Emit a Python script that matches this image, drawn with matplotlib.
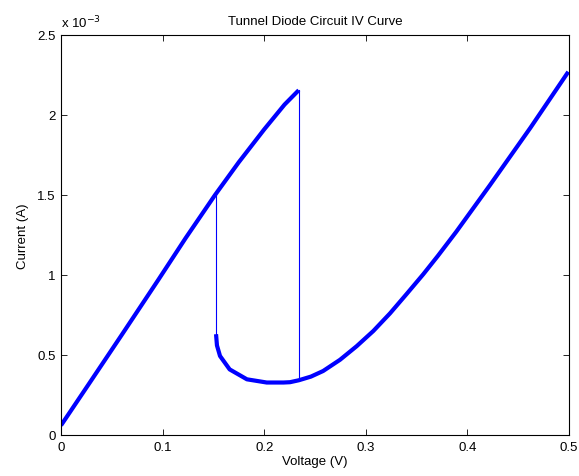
import matplotlib
matplotlib.use("Agg")
import matplotlib.pyplot as plt
from matplotlib.ticker import FuncFormatter

# Upper (rising) branch: voltage (V), current (mA)
upper_v = [0.0, 0.027, 0.0597, 0.0958, 0.1226, 0.1516, 0.175, 0.200,
           0.220, 0.234]
upper_i = [0.06, 0.315, 0.625, 0.97, 1.23, 1.50, 1.705, 1.91,
           2.065, 2.155]

# Lower (valley + diffusion) branch
lower_v = [0.1526, 0.1535, 0.1565, 0.166, 0.183, 0.2025, 0.219, 0.2254, 0.234,
           0.246, 0.258, 0.2746, 0.291, 0.3074, 0.3238, 0.340, 0.3566, 0.371,
           0.389, 0.422, 0.462, 0.4993]
lower_i = [0.63, 0.56, 0.494, 0.41, 0.348, 0.328, 0.328, 0.33, 0.342,
           0.365, 0.40, 0.47, 0.555, 0.65, 0.76, 0.88, 1.005, 1.12,
           1.27, 1.56, 1.92, 2.27]

# Vertical switching jumps
jump_v = [0.1526, 0.234]
jump_top = [1.50, 2.155]
jump_bottom = [0.63, 0.342]

x_ticks = [0, 0.1, 0.2, 0.3, 0.4, 0.5]
y_ticks = [0, 0.5, 1.0, 1.5, 2.0, 2.5]
scale = 1e-3

plt.rcParams['font.family'] = ['Liberation Sans', 'DejaVu Sans']

fig = plt.figure(figsize=(5.79, 4.77), dpi=100)
ax = fig.add_axes([61/579, 41/477, 508/579, 400/477])

blue = (0, 0, 1)
ax.plot(upper_v, [v * scale for v in upper_i], color=blue, lw=3.0,
        solid_capstyle='butt', solid_joinstyle='round')
ax.plot(lower_v, [v * scale for v in lower_i], color=blue, lw=3.0,
        solid_capstyle='butt', solid_joinstyle='round')
for xv, t, b in zip(jump_v, jump_top, jump_bottom):
    ax.plot([xv, xv], [t * scale, b * scale], color=blue, lw=0.8)

ax.set_xlim(0, 0.5)
ax.set_ylim(0, 2.5e-3)
ax.set_xticks(x_ticks)
ax.set_yticks([t * scale for t in y_ticks])
ax.xaxis.set_major_formatter(FuncFormatter(lambda v, p: f"{v:g}"))
ax.yaxis.set_major_formatter(FuncFormatter(lambda v, p: f"{round(v / scale, 3):g}"))
ax.tick_params(direction='in', length=4, width=0.6, top=True, right=True,
               labelsize=9.5, pad=4)
for s in ax.spines.values():
    s.set_linewidth(0.8)

ax.set_xlabel("Voltage (V)", fontsize=9.5, labelpad=2)
ax.set_ylabel("Current (A)", fontsize=9.5, labelpad=6)
ax.set_title("Tunnel Diode Circuit IV Curve", fontsize=9.5, pad=8)
ax.text(0.0, 1.012, r"x 10$^{-3}$", transform=ax.transAxes, fontsize=9.5,
        ha='left', va='bottom')

fig.savefig("out.png", dpi=100)
